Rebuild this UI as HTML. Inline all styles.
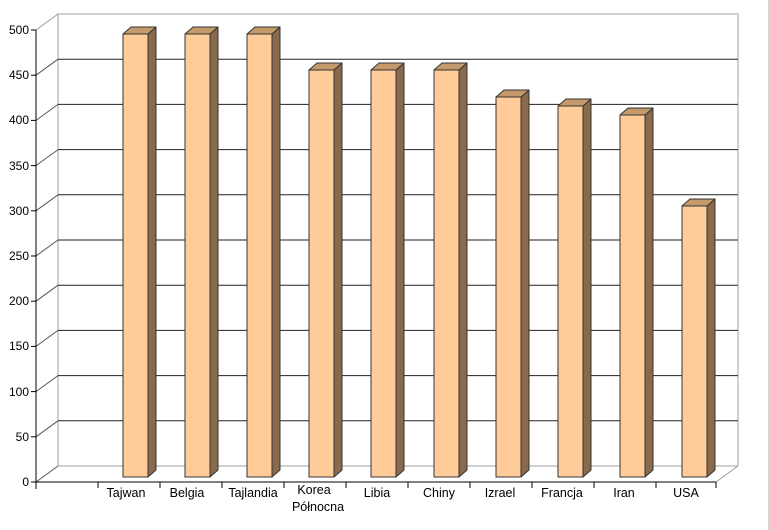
<!DOCTYPE html>
<html><head><style>body{margin:0;background:#fff}svg{display:block;font-family:"Liberation Sans",Arial,sans-serif}</style></head><body>
<svg width="770" height="530" viewBox="0 0 770 530" xmlns="http://www.w3.org/2000/svg">
<rect width="770" height="530" fill="#fff"/>
<line x1="769" y1="0" x2="769" y2="530" stroke="#c8c8c8" stroke-width="1.5"/>
<polyline points="58,466 58,14 738,14 738,466" fill="none" stroke="#c0c0c0" stroke-width="1.5"/>
<line x1="58" y1="466" x2="738" y2="466" stroke="#c0c0c0" stroke-width="1.5"/>
<line x1="36" y1="30" x2="58" y2="14" stroke="#999"/>
<line x1="716" y1="482" x2="738" y2="466" stroke="#999"/>
<g stroke="#222" stroke-width="1">
<line x1="58" y1="59.2" x2="738" y2="59.2"/><line x1="36" y1="75.2" x2="58" y2="59.2" stroke="#555"/>
<line x1="58" y1="104.4" x2="738" y2="104.4"/><line x1="36" y1="120.4" x2="58" y2="104.4" stroke="#555"/>
<line x1="58" y1="149.6" x2="738" y2="149.6"/><line x1="36" y1="165.6" x2="58" y2="149.6" stroke="#555"/>
<line x1="58" y1="194.8" x2="738" y2="194.8"/><line x1="36" y1="210.8" x2="58" y2="194.8" stroke="#555"/>
<line x1="58" y1="240" x2="738" y2="240"/><line x1="36" y1="256" x2="58" y2="240" stroke="#555"/>
<line x1="58" y1="285.2" x2="738" y2="285.2"/><line x1="36" y1="301.2" x2="58" y2="285.2" stroke="#555"/>
<line x1="58" y1="330.4" x2="738" y2="330.4"/><line x1="36" y1="346.4" x2="58" y2="330.4" stroke="#555"/>
<line x1="58" y1="375.6" x2="738" y2="375.6"/><line x1="36" y1="391.6" x2="58" y2="375.6" stroke="#555"/>
<line x1="58" y1="420.8" x2="738" y2="420.8"/><line x1="36" y1="436.8" x2="58" y2="420.8" stroke="#555"/>
<line x1="36" y1="482" x2="58" y2="466" stroke="#555"/>
</g>
<g stroke="#000" stroke-width="1">
<line x1="36" y1="30" x2="36" y2="489"/>
<line x1="36" y1="482" x2="716" y2="482"/>
<line x1="31" y1="30" x2="36" y2="30"/><line x1="31" y1="75.2" x2="36" y2="75.2"/><line x1="31" y1="120.4" x2="36" y2="120.4"/><line x1="31" y1="165.6" x2="36" y2="165.6"/><line x1="31" y1="210.8" x2="36" y2="210.8"/><line x1="31" y1="256" x2="36" y2="256"/><line x1="31" y1="301.2" x2="36" y2="301.2"/><line x1="31" y1="346.4" x2="36" y2="346.4"/><line x1="31" y1="391.6" x2="36" y2="391.6"/><line x1="31" y1="436.8" x2="36" y2="436.8"/><line x1="31" y1="482" x2="36" y2="482"/>
<line x1="98" y1="482" x2="98" y2="488"/><line x1="160" y1="482" x2="160" y2="488"/><line x1="222" y1="482" x2="222" y2="488"/><line x1="284" y1="482" x2="284" y2="488"/><line x1="346" y1="482" x2="346" y2="488"/><line x1="408" y1="482" x2="408" y2="488"/><line x1="470" y1="482" x2="470" y2="488"/><line x1="532" y1="482" x2="532" y2="488"/><line x1="594" y1="482" x2="594" y2="488"/><line x1="656" y1="482" x2="656" y2="488"/><line x1="716" y1="482" x2="716" y2="488"/>
</g>
<g font-size="12" fill="#000" text-anchor="end">
<text x="29" y="34">500</text><text x="29" y="79">450</text><text x="29" y="124">400</text><text x="29" y="170">350</text><text x="29" y="215">300</text><text x="29" y="260">250</text><text x="29" y="305">200</text><text x="29" y="350">150</text><text x="29" y="396">100</text><text x="29" y="441">50</text><text x="29" y="486">0</text>
</g>
<g font-size="12.5" fill="#000" text-anchor="middle">
<text x="126" y="497">Tajwan</text><text x="187" y="497">Belgia</text><text x="253" y="497">Tajlandia</text><text x="314" y="494">Korea</text><text x="318" y="511">Północna</text><text x="377" y="497">Libia</text><text x="439" y="497">Chiny</text><text x="500" y="497">Izrael</text><text x="562" y="497">Francja</text><text x="624" y="497">Iran</text><text x="686" y="497">USA</text>
</g>
<g stroke="#333" stroke-width="1" stroke-linejoin="round">
<polygon fill="#8a6a4c" points="148,477 156,470 156,27 148,34"/><polygon fill="#c49a6c" points="123,34 131,27 156,27 148,34"/><rect fill="#ffcc99" x="123" y="34" width="25" height="443"/>
<polygon fill="#8a6a4c" points="210,477 218,470 218,27 210,34"/><polygon fill="#c49a6c" points="185,34 193,27 218,27 210,34"/><rect fill="#ffcc99" x="185" y="34" width="25" height="443"/>
<polygon fill="#8a6a4c" points="272,477 280,470 280,27 272,34"/><polygon fill="#c49a6c" points="247,34 255,27 280,27 272,34"/><rect fill="#ffcc99" x="247" y="34" width="25" height="443"/>
<polygon fill="#8a6a4c" points="334,477 342,470 342,63 334,70"/><polygon fill="#c49a6c" points="309,70 317,63 342,63 334,70"/><rect fill="#ffcc99" x="309" y="70" width="25" height="407"/>
<polygon fill="#8a6a4c" points="396,477 404,470 404,63 396,70"/><polygon fill="#c49a6c" points="371,70 379,63 404,63 396,70"/><rect fill="#ffcc99" x="371" y="70" width="25" height="407"/>
<polygon fill="#8a6a4c" points="459,477 467,470 467,63 459,70"/><polygon fill="#c49a6c" points="434,70 442,63 467,63 459,70"/><rect fill="#ffcc99" x="434" y="70" width="25" height="407"/>
<polygon fill="#8a6a4c" points="521,477 529,470 529,90 521,97"/><polygon fill="#c49a6c" points="496,97 504,90 529,90 521,97"/><rect fill="#ffcc99" x="496" y="97" width="25" height="380"/>
<polygon fill="#8a6a4c" points="583,477 591,470 591,99 583,106"/><polygon fill="#c49a6c" points="558,106 566,99 591,99 583,106"/><rect fill="#ffcc99" x="558" y="106" width="25" height="371"/>
<polygon fill="#8a6a4c" points="645,477 653,470 653,108 645,115"/><polygon fill="#c49a6c" points="620,115 628,108 653,108 645,115"/><rect fill="#ffcc99" x="620" y="115" width="25" height="362"/>
<polygon fill="#8a6a4c" points="707,477 715,470 715,199 707,206"/><polygon fill="#c49a6c" points="682,206 690,199 715,199 707,206"/><rect fill="#ffcc99" x="682" y="206" width="25" height="271"/>
</g>
</svg>
</body></html>
